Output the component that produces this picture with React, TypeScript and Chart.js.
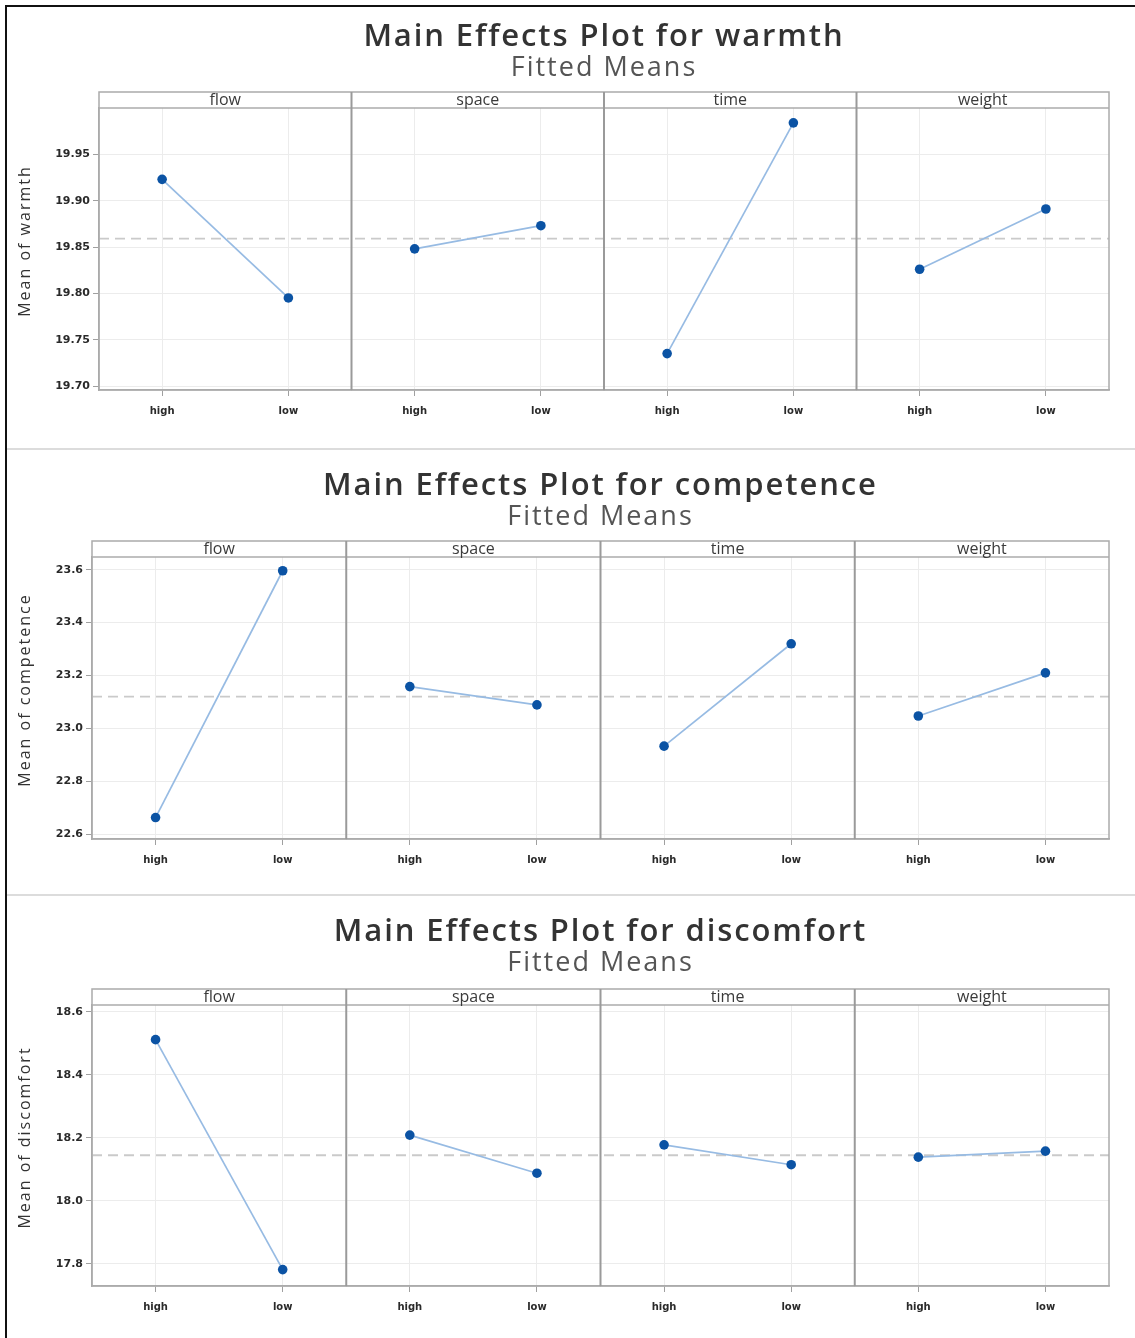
import React, { useEffect, useRef } from 'react';
import { Chart, registerables } from 'chart.js';

Chart.register(...registerables);

// ---------- data ----------
const factors = ['flow', 'space', 'time', 'weight'];
const levels = ['high', 'low'];

const warmthHigh = [19.923, 19.848, 19.735, 19.826];
const warmthLow = [19.795, 19.873, 19.984, 19.891];
const warmthMean = 19.859;
const warmthTicks = [19.7, 19.75, 19.8, 19.85, 19.9, 19.95];

const competenceHigh = [22.663, 23.158, 22.933, 23.047];
const competenceLow = [23.596, 23.089, 23.32, 23.21];
const competenceMean = 23.12;
const competenceTicks = [22.6, 22.8, 23.0, 23.2, 23.4, 23.6];

const discomfortHigh = [18.512, 18.209, 18.178, 18.139];
const discomfortLow = [17.782, 18.088, 18.115, 18.158];
const discomfortMean = 18.145;
const discomfortTicks = [17.8, 18.0, 18.2, 18.4, 18.6];

const subtitleText = 'Fitted Means';

// ---------- layout (page coordinates) ----------
const CANVAS_LEFT = 8;
const CANVAS_WIDTH = 1127;
const PLOT_RIGHT = 1109;
const STRIP_H = 16;
const X_AXIS_H = 40;

type SectionSpec = {
  response: string;
  high: number[];
  low: number[];
  mean: number;
  ticks: number[];
  decimals: number;
  yMin: number;
  yMax: number;
  top: number;
  plotLeft: number;
  plotTop: number;
  plotBottom: number;
  titleY: number;
  subtitleY: number;
};

const sections: SectionSpec[] = [
  {
    response: 'warmth', high: warmthHigh, low: warmthLow, mean: warmthMean, ticks: warmthTicks,
    decimals: 2, yMin: 19.6957, yMax: 20.0,
    top: 8, plotLeft: 99, plotTop: 108, plotBottom: 390, titleY: 37, subtitleY: 68,
  },
  {
    response: 'competence', high: competenceHigh, low: competenceLow, mean: competenceMean, ticks: competenceTicks,
    decimals: 1, yMin: 22.582, yMax: 23.648,
    top: 452, plotLeft: 92, plotTop: 557, plotBottom: 839, titleY: 486, subtitleY: 517,
  },
  {
    response: 'discomfort', high: discomfortHigh, low: discomfortLow, mean: discomfortMean, ticks: discomfortTicks,
    decimals: 1, yMin: 17.73, yMax: 18.622,
    top: 898, plotLeft: 92, plotTop: 1005, plotBottom: 1286, titleY: 932, subtitleY: 963,
  },
];

const panelPlugin = {
  id: 'panels',
  beforeDatasetsDraw(chart: any, _args: any, opts: any) {
    const { ctx, chartArea: a } = chart;
    const y = chart.scales.y.getPixelForValue(opts.mean);
    ctx.save();
    ctx.setLineDash([10, 6]);
    ctx.strokeStyle = '#cacaca';
    ctx.lineWidth = 1.8;
    ctx.beginPath();
    ctx.moveTo(a.left, y);
    ctx.lineTo(a.right, y);
    ctx.stroke();
    ctx.restore();
  },
  afterDraw(chart: any, _args: any, opts: any) {
    const { ctx, chartArea: a } = chart;
    const stripTop = a.top - STRIP_H;
    ctx.save();
    // titles
    const cx = (a.left + a.right) / 2;
    ctx.textAlign = 'center';
    ctx.textBaseline = 'middle';
    (ctx as any).letterSpacing = '1.9px';
    ctx.fillStyle = '#333333';
    ctx.font = '600 31px "Open Sans"';
    ctx.fillText(opts.title, cx, opts.titleY);
    (ctx as any).letterSpacing = '2px';
    ctx.fillStyle = '#555555';
    ctx.font = '27px "Open Sans"';
    ctx.fillText(opts.subtitle, cx, opts.subtitleY);
    (ctx as any).letterSpacing = '0px';
    // strip band
    ctx.fillStyle = '#ffffff';
    ctx.fillRect(a.left, stripTop, a.right - a.left, STRIP_H);
    ctx.strokeStyle = '#ababab';
    ctx.lineWidth = 1.5;
    ctx.strokeRect(a.left, stripTop, a.right - a.left, a.bottom - stripTop);
    ctx.beginPath();
    ctx.moveTo(a.left, a.top);
    ctx.lineTo(a.right, a.top);
    ctx.stroke();
    // panel separators
    ctx.strokeStyle = '#9a9a9a';
    ctx.lineWidth = 2;
    factors.forEach((_f, i) => {
      if (i === 0) return;
      const sc = chart.scales['x' + i];
      ctx.beginPath();
      ctx.moveTo(sc.left, stripTop);
      ctx.lineTo(sc.left, a.bottom);
      ctx.stroke();
    });
    // strip labels
    ctx.fillStyle = '#3a3a3a';
    ctx.font = '16px "Open Sans"';
    factors.forEach((f, i) => {
      const sc = chart.scales['x' + i];
      ctx.fillText(f, (sc.left + sc.right) / 2, stripTop + STRIP_H / 2 + 0.5);
    });
    // y-axis title
    ctx.translate(17, (stripTop + a.bottom) / 2);
    ctx.rotate(-Math.PI / 2);
    (ctx as any).letterSpacing = '2px';
    ctx.font = '16px "Open Sans"';
    ctx.fillStyle = '#333333';
    ctx.fillText(opts.yTitle, 0, 0);
    ctx.restore();
  },
};

function Section({ spec }: { spec: SectionSpec }) {
  const ref = useRef<HTMLCanvasElement | null>(null);
  const height = spec.plotBottom - spec.top + X_AXIS_H;
  const yWidth = spec.plotLeft - CANVAS_LEFT;
  const padRight = CANVAS_WIDTH - (PLOT_RIGHT - CANVAS_LEFT);

  useEffect(() => {
    if (!ref.current) return;
    const tickFont = { family: 'DejaVu Sans', size: 11, weight: 'bold' as const };
    const scales: any = {
      y: {
        type: 'linear',
        position: 'left',
        min: spec.yMin,
        max: spec.yMax,
        afterBuildTicks: (s: any) => {
          s.ticks = spec.ticks.map((v) => ({ value: v }));
        },
        afterFit: (s: any) => {
          s.width = yWidth;
        },
        ticks: {
          callback: (v: any) => Number(v).toFixed(spec.decimals),
          font: tickFont,
          color: '#2a2a2a',
          padding: 3,
        },
        grid: { color: '#ececec', lineWidth: 1, tickLength: 6, tickColor: '#a0a0a0', tickWidth: 1 },
        border: { display: true, color: '#ababab', width: 1.5 },
      },
    };
    factors.forEach((_f, i) => {
      scales['x' + i] = {
        type: 'category',
        position: 'bottom',
        labels: levels,
        offset: true,
        stack: 'panels',
        stackWeight: 1,
        afterFit: (s: any) => {
          s.height = X_AXIS_H;
        },
        grid: { offset: false, color: '#ececec', lineWidth: 1, tickLength: 6, tickColor: '#a0a0a0' },
        ticks: {
          font: { family: 'DejaVu Sans', size: 10, weight: 'bold' as const },
          color: '#2a2a2a',
          padding: 9,
          maxRotation: 0,
          autoSkip: false,
        },
        border: { display: true, color: '#ababab', width: 1.5 },
      };
    });

    const chart = new Chart(ref.current, {
      type: 'line',
      data: {
        labels: levels,
        datasets: factors.map((f, i) => ({
          label: f,
          data: [spec.high[i], spec.low[i]],
          xAxisID: 'x' + i,
          yAxisID: 'y',
          borderColor: '#97bbe3',
          borderWidth: 1.7,
          pointRadius: 4.8,
          pointBackgroundColor: '#0b53a4',
          pointBorderColor: '#0b53a4',
          pointBorderWidth: 0,
          tension: 0,
          fill: false,
        })),
      },
      options: {
        responsive: false,
        maintainAspectRatio: false,
        animation: false,
        devicePixelRatio: 1,
        layout: { padding: { left: 0, right: padRight, top: spec.plotTop - spec.top, bottom: 0 } },
        scales,
        plugins: {
          legend: { display: false },
          tooltip: { enabled: false },
          title: { display: false },
          panels: {
            mean: spec.mean,
            yTitle: `Mean of ${spec.response}`,
            title: `Main Effects Plot for ${spec.response}`,
            subtitle: subtitleText,
            titleY: spec.titleY - spec.top,
            subtitleY: spec.subtitleY - spec.top,
          },
        } as any,
      },
      plugins: [panelPlugin],
    });
    return () => chart.destroy();
  }, [spec]);

  return (
    <canvas
      ref={ref}
      width={CANVAS_WIDTH}
      height={height}
      style={{
        position: 'absolute',
        left: CANVAS_LEFT,
        top: spec.top,
        width: CANVAS_WIDTH,
        height,
        display: 'block',
      }}
    />
  );
}

export default function App() {
  return (
    <div style={{ position: 'absolute', left: 0, top: 0, width: 1135, height: 1338, background: '#ffffff', overflow: 'hidden' }}>
      {sections.map((s) => (
        <Section key={s.response} spec={s} />
      ))}
      <div style={{ position: 'absolute', left: 5, top: 5, width: 1130, height: 2, background: '#111' }} />
      <div style={{ position: 'absolute', left: 5, top: 5, width: 2, height: 1333, background: '#111' }} />
      <div style={{ position: 'absolute', left: 7, top: 448, width: 1128, height: 2, background: '#dcdcdc' }} />
      <div style={{ position: 'absolute', left: 7, top: 894, width: 1128, height: 2, background: '#dcdcdc' }} />
    </div>
  );
}
